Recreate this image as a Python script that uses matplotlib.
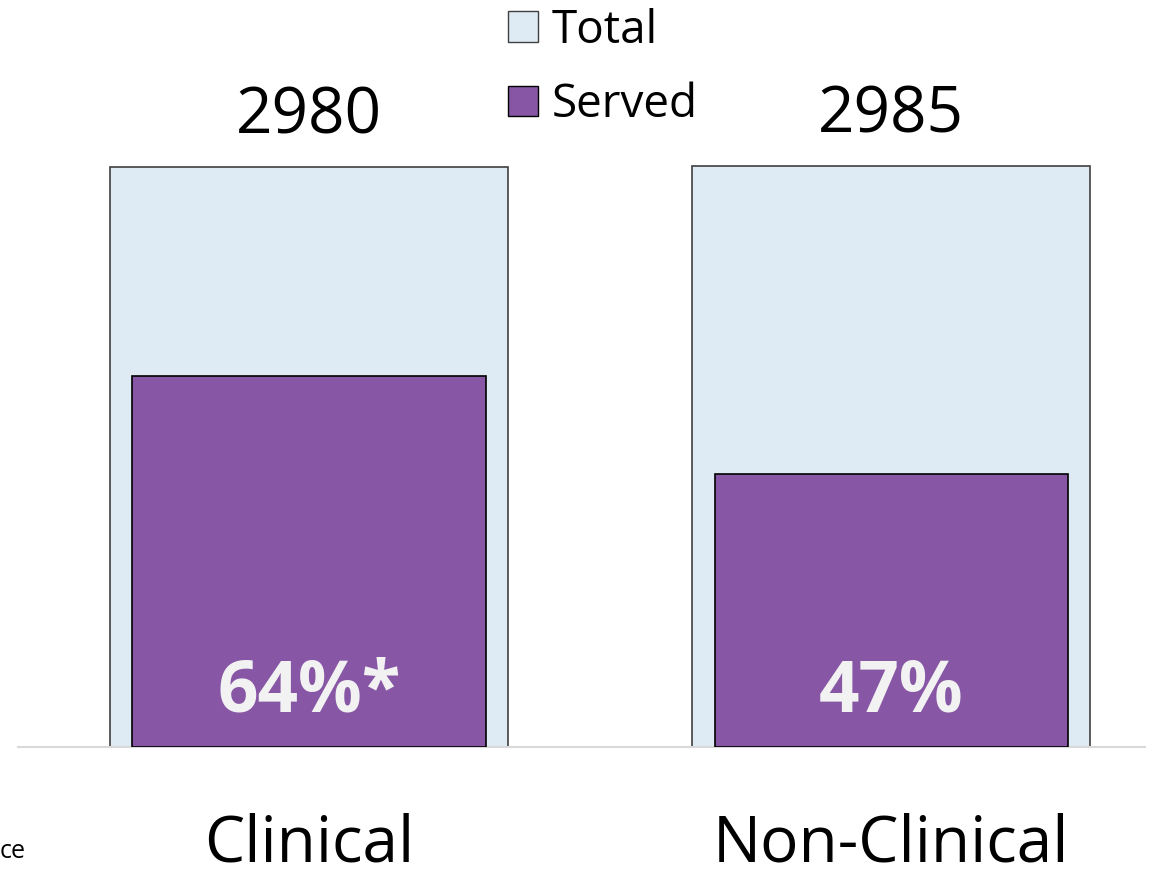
import matplotlib.pyplot as plt
from matplotlib.patches import Patch

plt.rcParams["font.family"] = ["Open Sans", "DejaVu Sans"]

categories = ["Clinical", "Non-Clinical"]
total = [2980, 2985]
served = [1907, 1403]
pct_labels = ["64%*", "47%"]

total_color = "#deebf4"
served_color = "#8757a6"

fig = plt.figure(figsize=(11.58, 8.72), dpi=100)
ax = fig.add_axes([18 / 1158, 125 / 872, 1127 / 1158, 747 / 872])

x = [0, 1]
bars_total = ax.bar(x, total, width=0.684, color=total_color,
                    edgecolor="#3f3f3f", linewidth=1.2, zorder=2)
bars_served = ax.bar(x, served, width=0.607, color=served_color,
                     edgecolor="black", linewidth=1.2, zorder=3)

ax.bar_label(bars_total, labels=[str(t) for t in total], padding=13,
             fontsize=46, color="black")

for xi, lab in zip(x, pct_labels):
    ax.annotate(lab, xy=(xi, 0), xytext=(0, 39), textcoords="offset points",
                ha="center", va="center", fontsize=51, fontweight="bold",
                color="#f2f2f2", zorder=4)

ax.set_xlim(-0.5, 1.436)
ax.set_ylim(0, 2980 * 747 / 580)

ax.set_xticks(x)
ax.set_xticklabels(categories, fontsize=46)
ax.tick_params(axis="x", length=0, pad=47)
ax.set_yticks([])

for side in ["top", "left", "right"]:
    ax.spines[side].set_visible(False)
ax.spines["bottom"].set_color("#d9d9d9")
ax.spines["bottom"].set_linewidth(1.5)
ax.patch.set_alpha(0)

handles = [Patch(facecolor=total_color, edgecolor="#3f3f3f", label="Total"),
           Patch(facecolor=served_color, edgecolor="black", label="Served")]
fig.legend(handles=handles, loc="upper left", bbox_to_anchor=(490 / 1158, 1.012),
           frameon=False, fontsize=33, handlelength=0.65, handleheight=0.65,
           handletextpad=0.3, labelspacing=0.62, borderaxespad=0)

fig.text(0, (872 - 858) / 872, "ce", fontsize=18, ha="left", va="baseline")

fig.savefig("out.png", dpi=100)
